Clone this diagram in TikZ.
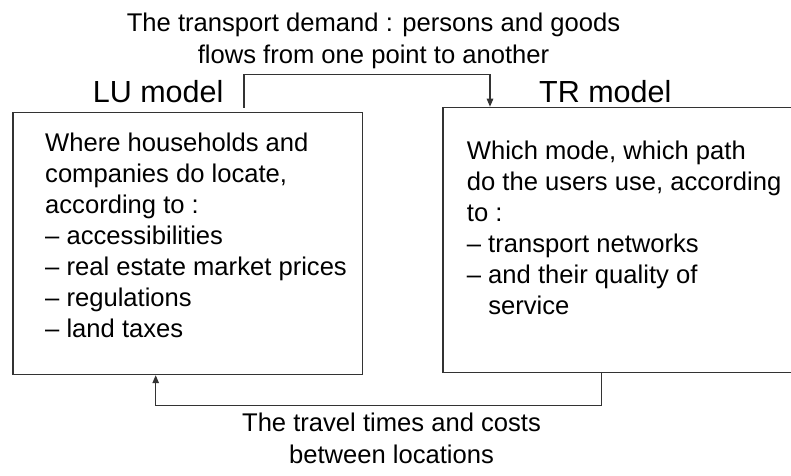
\documentclass[tikz,border=0pt]{standalone}
\usepackage{fontspec}
\setmainfont{Liberation Sans}
\usetikzlibrary{arrows.meta}
\begin{document}
\begin{tikzpicture}[x=1pt,y=-1pt,
  boxstyle/.style={draw=black!80, line width=1.2pt, rectangle, inner sep=0pt, anchor=north west},
  conn/.style={draw=black!80, line width=1.2pt, -{Triangle[length=8pt,width=6.5pt]}},
  body/.style={inner sep=0pt, anchor=base west, font=\fontsize{25.6}{31}\selectfont},
  ttl/.style={inner sep=0pt, anchor=base, font=\fontsize{25.6}{31.6}\selectfont},
  hdr/.style={inner sep=0pt, anchor=base west, font=\fontsize{30.5}{36}\selectfont}]
\useasboundingbox (0,0) rectangle (791,475);
\clip (0,0) rectangle (791,475);
\fill[white] (0,0) rectangle (791,475);
% boxes
\node[boxstyle, minimum width=349.7pt, minimum height=262.3pt] (lu) at (12.3,111.7) {};
\node[boxstyle, minimum width=370pt, minimum height=265pt] (tr) at (442.3,106.7) {};
% headers
\node[hdr] (luh) at (92.7,102.3) {LU model};
\node[hdr] (trh) at (539,102.3) {TR model};
% titles
\node[ttl] (top) at (373.5,31.7) {\begin{tabular}[t]{@{}c@{}}The transport demand : persons and goods\\ flows from one point to another\end{tabular}};
\node[ttl] (bot) at (391.5,431.7) {\begin{tabular}[t]{@{}c@{}}The travel times and costs\\ between locations\end{tabular}};
% box texts
\node[body] (lut) at (45,151) {\begin{tabular}[t]{@{}l@{}}Where households and\\ companies do locate,\\ according to :\\ – accessibilities\\ – real estate market prices\\ – regulations\\ – land taxes\end{tabular}};
\node[body] (trt) at (466.7,159) {\begin{tabular}[t]{@{}l@{}}Which mode, which path\\ do the users use, according\\ to :\\ – transport networks\\ – and their quality of\\ \hphantom{– }service\end{tabular}};
% connectors
\draw[conn] ([xshift=231.7pt,yshift=4pt]lu.north west) |- ([xshift=47.7pt,yshift=32pt]tr.north west) -- ([xshift=47.7pt]tr.north west);
\draw[conn] ([xshift=159.4pt]tr.south west) |- ([xshift=143.4pt,yshift=-30pt]lu.south west) -- ([xshift=143.4pt]lu.south west);
\end{tikzpicture}
\end{document}
